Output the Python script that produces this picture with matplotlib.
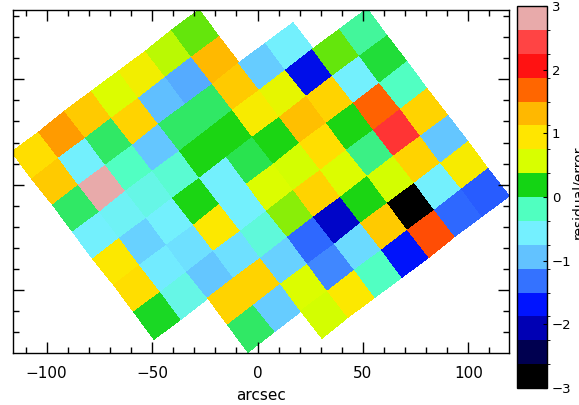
import numpy as np
import matplotlib
matplotlib.use('Agg')
import matplotlib.pyplot as plt
from matplotlib.colors import ListedColormap, BoundaryNorm, LinearSegmentedColormap
from matplotlib.ticker import MultipleLocator
import matplotlib.cm as cm

# residual/error per spaxel, rows = steps along the "down-right" grid axis,
# columns = steps along the "up-right" grid axis (nan = no spaxel)
nan = np.nan
row0 = [1.0, 1.45, 1.15, 0.6, 0.8, 0.5, 0.35, nan, nan, nan, nan]
row1 = [1.15, -0.55, 0.0, 1.1, -0.95, -1.05, 1.3, nan, nan, nan, nan]
row2 = [0.0, 3.0, -0.2, -0.9, 0.0, 0.0, 1.15, -0.85, -0.55, nan, nan]
row3 = [-0.55, -0.5, -0.4, -0.3, 0.2, 0.2, 0.85, 0.7, -1.8, 0.35, -0.1]
row4 = [0.9, -0.8, -0.55, 0.2, -0.55, 0.05, 0.2, 1.25, 1.1, -0.55, 0.1]
row5 = [1.0, -0.6, -0.7, 0.9, -0.55, 0.6, 0.55, 1.0, 0.2, 1.7, -0.2]
row6 = [0.15, -0.4, -0.9, -0.7, -0.35, 0.4, 1.1, 0.6, -0.05, 2.3, 1.1]
row7 = [nan, nan, 1.1, 1.1, -0.8, -1.35, -1.95, 0.2, 0.55, 1.1, -0.9]
row8 = [nan, nan, 0.0, -0.85, 0.6, -1.2, -0.75, 1.15, -2.9, -0.55, 0.85]
row9 = [nan, nan, nan, nan, 0.55, 0.9, -0.2, -1.7, 1.8, -1.35, -1.4]
resid = np.array([row0, row1, row2, row3, row4, row5, row6, row7, row8, row9])

# colour table, 16 levels from -3 to 3
levels = np.linspace(-3, 3, 17)
colours = ['#000000', '#000050', '#0000b4', '#0014ff', '#3472ff', '#62c2ff',
           '#74f0ff', '#50ffc0', '#14d414', '#d8ff00', '#ffe600', '#ffb800',
           '#ff6600', '#ff1212', '#ff4444', '#e8aaaa']
cbar_ticks = [-3, -2, -1, 0, 1, 2, 3]

# grid geometry (arcsec)
x0, y0 = -116.4, 15.5
size = 15.9
theta = np.deg2rad(37.25)

centres = (levels[:-1] + levels[1:]) / 2
pos = list((centres + 3) / 6)
pos = [0.0] + pos + [1.0]
cl = [colours[0]] + colours + [colours[-1]]
smooth = LinearSegmentedColormap.from_list('resid', list(zip(pos, cl)))

ny, nx = resid.shape
ii, jj = np.meshgrid(np.arange(nx + 1), np.arange(ny + 1))
X = x0 + ii * size * np.cos(theta) + jj * size * np.sin(theta)
Y = y0 + ii * size * np.sin(theta) - jj * size * np.cos(theta)

fig = plt.figure(figsize=(5.79, 4.05), dpi=100)
ax = fig.add_axes([12.7 / 579, 1 - 353.3 / 405, (509.3 - 12.7) / 579, (353.3 - 10) / 405])
ax.pcolormesh(X, Y, np.ma.masked_invalid(resid), cmap=smooth, vmin=-3, vmax=3,
              shading='flat', edgecolors='face', linewidth=0.2)
ax.set_xlim(-116.1, 119.4)
ax.set_ylim(-79.95, 82.85)

ax.xaxis.set_major_locator(MultipleLocator(50))
ax.xaxis.set_minor_locator(MultipleLocator(10))
ax.yaxis.set_major_locator(MultipleLocator(50))
ax.yaxis.set_minor_locator(MultipleLocator(10))
ax.tick_params(which='both', direction='in', top=True, right=True, width=1)
ax.tick_params(which='major', length=8)
ax.tick_params(which='minor', length=4)
ax.tick_params(axis='x', labelsize=11, pad=9)
ax.tick_params(axis='y', labelleft=False)
for s in ax.spines.values():
    s.set_linewidth(1)
ax.set_xlabel('arcsec', fontsize=11, labelpad=5)

cax = fig.add_axes([517 / 579, 1 - 388 / 405, 29.5 / 579, 382 / 405])
sm = cm.ScalarMappable(norm=BoundaryNorm(levels, 16), cmap=ListedColormap(colours))
cb = fig.colorbar(sm, cax=cax, ticks=cbar_ticks)
cb.ax.tick_params(direction='in', length=3, labelsize=9.5, pad=4)
cb.outline.set_linewidth(1)
fig.text(571 / 579, 1 - 192 / 405, 'residual/error', rotation=90, ha='left', va='center', fontsize=10)

fig.savefig('out.png', dpi=100)
